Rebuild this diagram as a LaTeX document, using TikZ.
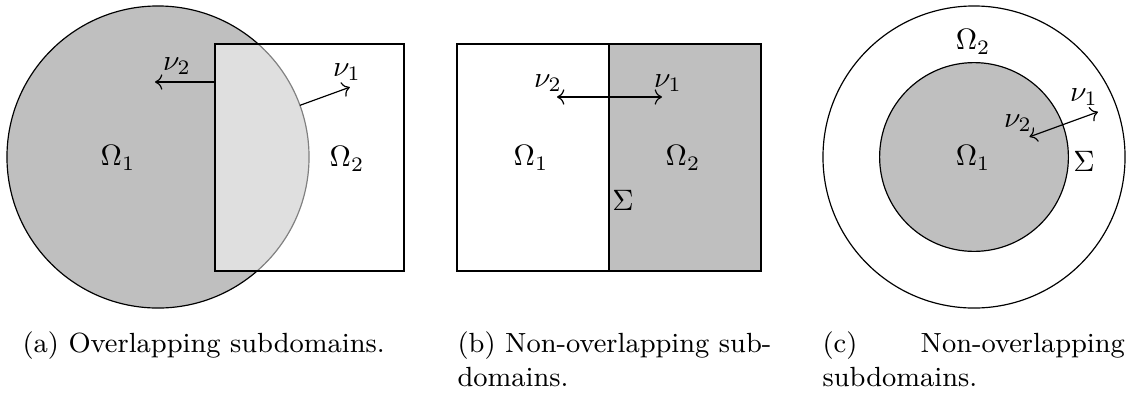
\documentclass[tikz,border=0pt]{standalone}
\usetikzlibrary{arrows.meta}
\begin{document}
\begin{tikzpicture}[x=0.339pt,y=-0.339pt,
  region/.style={draw=black, line width=0.4pt},
  normal/.style={->, line width=0.4pt},
  both/.style={<->, line width=0.4pt},
  lbl/.style={inner sep=0pt},
  captext/.style={inner sep=0pt, anchor=north west, align=left, font=\fontsize{9.4}{11.6}\selectfont}]
\useasboundingbox (0,0) rectangle (1126,394);
% ---------- (a) ----------
\coordinate (ca) at (158,157);
\fill[gray!50] (ca) circle[radius=51.2pt];
\draw[region] (ca) circle[radius=51.2pt];
\draw[region, fill=white, fill opacity=0.5] (215,44) rectangle (404,271);
\coordinate (a2s) at (215,82);
\coordinate (a2e) at (155,82);
\draw[normal] (a2s) -- (a2e);
\path (ca) ++(20:51.2pt) coordinate (a1s) ++(20:18pt) coordinate (a1e);
\draw[normal] (a1s) -- (a1e);
\node[lbl] (anu2) at (177,66) {$\nu_2$};
\node[lbl] (anu1) at (347,72) {$\nu_1$};
\node[lbl] (aO1) at (118,158) {$\Omega_1$};
\node[lbl] (aO2) at (347,159) {$\Omega_2$};
% ---------- (b) ----------
\fill[gray!50] (609,44) rectangle (761,271);
\draw[region] (457,44) rectangle (761,271);
\coordinate (bt) at (609,44);
\coordinate (bb) at (609,271);
\draw[region] (bt) -- (bb);
\coordinate (bl) at (557,97);
\coordinate (br) at (662,97);
\draw[both] (bl) -- (br);
\node[lbl] (bnu2) at (548,83) {$\nu_2$};
\node[lbl] (bnu1) at (668,83) {$\nu_1$};
\node[lbl] (bO1) at (531,158) {$\Omega_1$};
\node[lbl] (bO2) at (683,158) {$\Omega_2$};
\node[lbl] (bS) at (623,200) {$\Sigma$};
% ---------- (c) ----------
\coordinate (cc) at (974,157);
\draw[region] (cc) circle[radius=51.2pt];
\draw[region, fill=gray!50] (cc) circle[radius=32pt];
\path (cc) ++(20:20pt) coordinate (cs) (cc) ++(20:44.7pt) coordinate (ce);
\draw[both] (cs) -- (ce);
\node[lbl] (cO1) at (973,158) {$\Omega_1$};
\node[lbl] (cO2) at (973,42) {$\Omega_2$};
\node[lbl] (cS) at (1084,161) {$\Sigma$};
\node[lbl] (cnu1) at (1084,97) {$\nu_1$};
\node[lbl] (cnu2) at (1018,123) {$\nu_2$};
% ---------- captions ----------
\node[captext] (capa) at (22,331) {(a) Overlapping subdomains.};
\node[captext] (capb) at (457,331) {(b) Non-overlapping sub-\\domains.};
\node[captext, text width=102.5pt] (capc) at (822,331) {(c)\hfill Non-overlapping\\subdomains.};
\end{tikzpicture}
\end{document}
